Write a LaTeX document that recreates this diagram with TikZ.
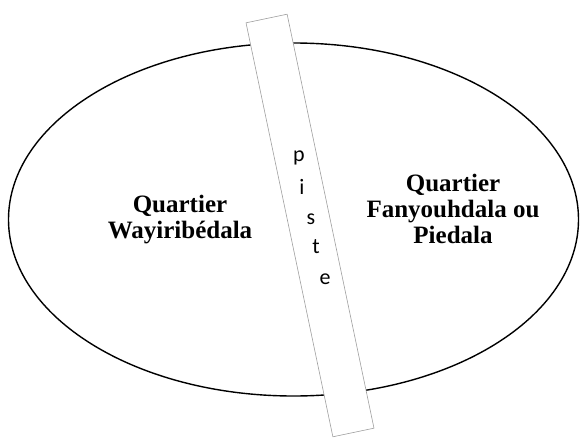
\documentclass[tikz,border=0pt]{standalone}
\usepackage{fontspec}
\setmainfont{Liberation Serif}
\newfontfamily\pistefont{Carlito}
\usetikzlibrary{shapes.geometric}
\tikzset{ile/.style={draw, ellipse, line width=1.4pt, minimum width=570pt, minimum height=353pt, inner sep=0pt},
  route/.style={draw=gray!75, fill=white, line width=0.6pt, minimum width=42pt, minimum height=423pt, inner sep=0pt},
  quartier/.style={align=center, font=\bfseries\fontsize{25}{26}\selectfont},
  lettre/.style={anchor=base, inner sep=0pt, font=\pistefont\fontsize{22}{22}\selectfont}}

\begin{document}
\begin{tikzpicture}[x=1pt,y=1pt]
  \useasboundingbox (0,0) rectangle (580,437);
  % the village
  \node[ile] (village) at (293.5,217.5) {};
  % the track across it
  \node[route, rotate=11.85] (piste) at (310,211.5) {};
  \foreach \l/\x/\y in {p/299/275.3,i/302/243,s/311/213,t/316/184,e/325/153}{
    \node[lettre] (l\l) at (\x,\y) {\l};}
  % quarters
  \node[quartier] (ouest) at (180,217) {Quartier\\Wayiribédala};
  \node[quartier] (est) at (453,228.5) {Quartier\\Fanyouhdala ou\\Piedala};
\end{tikzpicture}
\end{document}
